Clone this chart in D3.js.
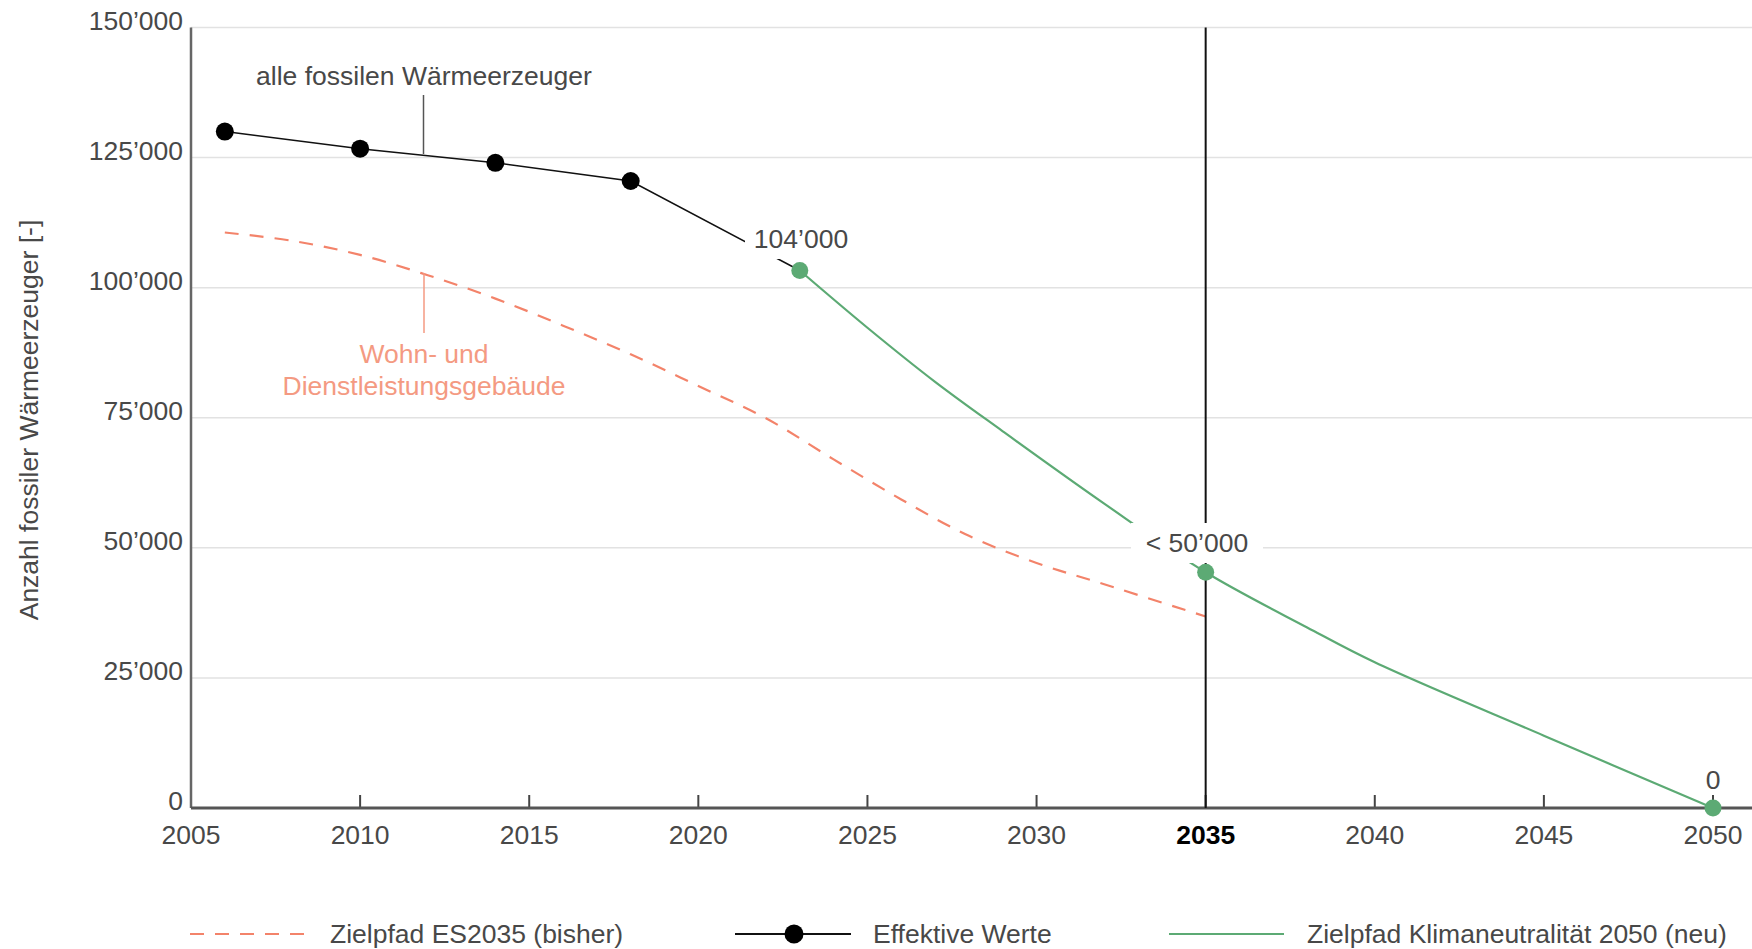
<!DOCTYPE html>
<html>
<head>
<meta charset="utf-8">
<script src="https://cdn.jsdelivr.net/npm/d3@7"></script>
<style>
    body { margin: 0; background: #fff; }
    svg text { font-family: "Helvetica Neue", Helvetica, "Liberation Sans", Arial, sans-serif; fill: #484848; }
</style>
</head>
<body>
<script>
/* jshint esversion: 6 */

// effektive Werte
var effYears = [2006, 2010, 2014, 2018, 2023];
var effValues = [130000, 126700, 124000, 120500, 103300];

// Zielpfad ES2035 (bisher), Wohn- und Dienstleistungsgebäude
var esYears = [2006, 2008, 2010, 2012, 2014, 2016, 2018, 2020, 2022, 2024, 2026, 2028, 2030, 2032, 2035];
var esValues = [110600, 109000, 106300, 102400, 97900, 92700, 87200, 81100, 74900, 67000, 59300, 52300, 47100, 43000, 36800];

// Zielpfad Klimaneutralität 2050 (neu)
var klimaYears = [2023, 2025, 2027, 2029, 2032, 2035, 2038, 2040, 2045, 2050];
var klimaValues = [103300, 92300, 81900, 72400, 58500, 45300, 34700, 28000, 13900, 0];
var klimaDotYears = [2023, 2035, 2050];

var yTicks = [0, 25000, 50000, 75000, 100000, 125000, 150000];
var xTicks = [2005, 2010, 2015, 2020, 2025, 2030, 2035, 2040, 2045, 2050];

var legendLabels = ['Zielpfad ES2035 (bisher)', 'Effektive Werte', 'Zielpfad Klimaneutralität 2050 (neu)'];

var width = 1752,
    height = 949;

var orange = '#f3836a',
    orangeText = '#f49a82',
    green = '#5caa74',
    fontSize = '26.5px';

var svg = d3.select('body')
    .append('svg')
    .attr('width', width)
    .attr('height', height);

var x = d3.scaleLinear().domain([2005, 2050]).range([191, 1713]);
var y = d3.scaleLinear().domain([0, 150000]).range([808, 27.5]);

var fmt = function(v) {
    return d3.format(',')(v).replace(/,/g, '’');
};

var zip = (xs, ys) => xs.map((d, i) => [d, ys[i]]);
var effData = zip(effYears, effValues);
var esData = zip(esYears, esValues);
var klimaData = zip(klimaYears, klimaValues);

// grid
svg.append('g')
    .selectAll('line')
    .data(yTicks.filter(d => d > 0)).enter()
    .append('line')
    .attr('x1', x(2005))
    .attr('x2', width)
    .attr('y1', d => y(d))
    .attr('y2', d => y(d))
    .attr('stroke', '#e2e2e2')
    .attr('stroke-width', 1.5);

// y tick labels
svg.append('g')
    .selectAll('text')
    .data(yTicks).enter()
    .append('text')
    .attr('x', 183)
    .attr('y', d => y(d) + 2)
    .attr('text-anchor', 'end')
    .style('font-size', fontSize)
    .text(d => d === 0 ? '0' : fmt(d));

// x ticks (inside)
svg.append('g')
    .selectAll('line')
    .data(xTicks.slice(1)).enter()
    .append('line')
    .attr('x1', d => x(d))
    .attr('x2', d => x(d))
    .attr('y1', y(0))
    .attr('y2', y(0) - 13)
    .attr('stroke', '#444')
    .attr('stroke-width', 2);

svg.append('g')
    .selectAll('text')
    .data(xTicks).enter()
    .append('text')
    .attr('x', d => x(d))
    .attr('y', 844)
    .attr('text-anchor', 'middle')
    .style('font-size', fontSize)
    .style('font-weight', d => d === 2035 ? 'bold' : null)
    .style('fill', d => d === 2035 ? '#000' : null)
    .text(d => d);

// axes
svg.append('line')
    .attr('x1', x(2005)).attr('x2', x(2005))
    .attr('y1', y(150000)).attr('y2', y(0))
    .attr('stroke', '#666').attr('stroke-width', 2.5);

svg.append('line')
    .attr('x1', x(2005)).attr('x2', width)
    .attr('y1', y(0)).attr('y2', y(0))
    .attr('stroke', '#555').attr('stroke-width', 3);

// y axis title
svg.append('text')
    .attr('transform', 'translate(38,420) rotate(-90)')
    .attr('text-anchor', 'middle')
    .style('font-size', fontSize)
    .text('Anzahl fossiler Wärmeerzeuger [-]');

var line = d3.line().x(d => x(d[0])).y(d => y(d[1]));

// ES2035 dashed
svg.append('path')
    .datum(esData)
    .attr('d', line.curve(d3.curveCatmullRom.alpha(0.5)))
    .attr('fill', 'none')
    .attr('stroke', orange)
    .attr('stroke-width', 2.2)
    .attr('stroke-dasharray', '14 11');

// 2035 marker line
svg.append('line')
    .attr('x1', x(2035)).attr('x2', x(2035))
    .attr('y1', y(150000)).attr('y2', y(0))
    .attr('stroke', '#111').attr('stroke-width', 2);

// effective values
svg.append('path')
    .datum(effData)
    .attr('d', line.curve(d3.curveLinear))
    .attr('fill', 'none')
    .attr('stroke', '#111')
    .attr('stroke-width', 1.6);

// Klimaneutralität
svg.append('path')
    .datum(klimaData)
    .attr('d', line.curve(d3.curveCatmullRom.alpha(0.5)))
    .attr('fill', 'none')
    .attr('stroke', green)
    .attr('stroke-width', 2.2);

// value labels with white boxes
function valueLabel(txt, cx, baseline, bw, bh) {
    var g = svg.append('g');
    g.append('rect')
        .attr('x', cx - bw / 2)
        .attr('y', baseline - bh + 11)
        .attr('width', bw)
        .attr('height', bh)
        .attr('fill', '#fff');
    g.append('text')
        .attr('x', cx)
        .attr('y', baseline)
        .attr('text-anchor', 'middle')
        .style('font-size', fontSize)
        .text(txt);
}

valueLabel(fmt(104000), 801, 248, 112, 40);
valueLabel('< ' + fmt(50000), 1197, 552, 132, 40);

// dots
svg.append('g')
    .selectAll('circle')
    .data(effData.slice(0, 4)).enter()
    .append('circle')
    .attr('cx', d => x(d[0]))
    .attr('cy', d => y(d[1]))
    .attr('r', 9)
    .attr('fill', '#000');

svg.append('g')
    .selectAll('circle')
    .data(klimaData.filter(d => klimaDotYears.indexOf(d[0]) > -1)).enter()
    .append('circle')
    .attr('cx', d => x(d[0]))
    .attr('cy', d => y(d[1]))
    .attr('r', 8.5)
    .attr('fill', green);

svg.append('text')
    .attr('x', x(2050))
    .attr('y', 789)
    .attr('text-anchor', 'middle')
    .style('font-size', fontSize)
    .text('0');

// annotations
svg.append('text')
    .attr('x', 424)
    .attr('y', 85)
    .attr('text-anchor', 'middle')
    .style('font-size', fontSize)
    .text('alle fossilen Wärmeerzeuger');

svg.append('line')
    .attr('x1', 423.5).attr('x2', 423.5)
    .attr('y1', 95).attr('y2', 154)
    .attr('stroke', '#555').attr('stroke-width', 1.5);

svg.append('line')
    .attr('x1', 424).attr('x2', 424)
    .attr('y1', 273).attr('y2', 333)
    .attr('stroke', orangeText).attr('stroke-width', 1.5);

svg.append('text')
    .attr('x', 424)
    .attr('y', 363)
    .attr('text-anchor', 'middle')
    .style('font-size', fontSize)
    .style('fill', orangeText)
    .text('Wohn- und');

svg.append('text')
    .attr('x', 424)
    .attr('y', 395)
    .attr('text-anchor', 'middle')
    .style('font-size', fontSize)
    .style('fill', orangeText)
    .text('Dienstleistungsgebäude');

// legend
var legend = svg.append('g');

legend.append('line')
    .attr('x1', 190).attr('x2', 307)
    .attr('y1', 934).attr('y2', 934)
    .attr('stroke', orange).attr('stroke-width', 2.2)
    .attr('stroke-dasharray', '14 11');

legend.append('line')
    .attr('x1', 735).attr('x2', 851)
    .attr('y1', 934).attr('y2', 934)
    .attr('stroke', '#111').attr('stroke-width', 2);

legend.append('circle')
    .attr('cx', 794).attr('cy', 934).attr('r', 9.5)
    .attr('fill', '#000');

legend.append('line')
    .attr('x1', 1169).attr('x2', 1284)
    .attr('y1', 934).attr('y2', 934)
    .attr('stroke', green).attr('stroke-width', 2.2);

legend.selectAll('text')
    .data(legendLabels).enter()
    .append('text')
    .attr('x', (d, i) => [330, 873, 1307][i])
    .attr('y', 943)
    .style('font-size', fontSize)
    .text(d => d);
</script>
</body>
</html>
